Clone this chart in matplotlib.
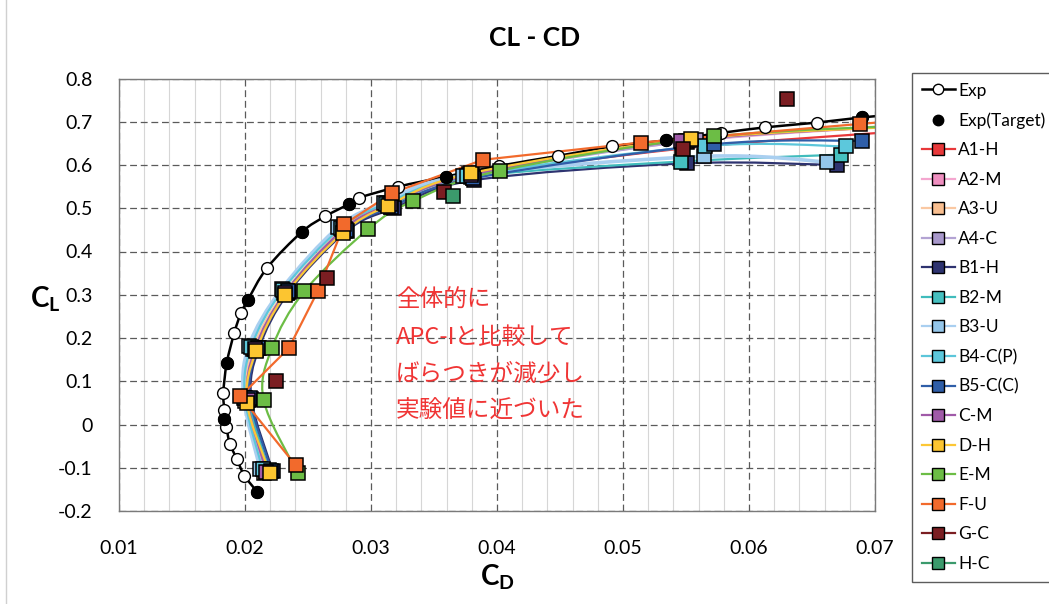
import numpy as np
import matplotlib
matplotlib.use("Agg")
import matplotlib.pyplot as plt
from matplotlib.path import Path
from matplotlib.patches import PathPatch
from matplotlib.lines import Line2D
from matplotlib.ticker import MultipleLocator

plt.rcParams["font.family"] = ["Lato", "DejaVu Sans"]
plt.rcParams["mathtext.fontset"] = "custom"
plt.rcParams["mathtext.rm"] = "Lato"
plt.rcParams["mathtext.bf"] = "Lato:bold"

# ---------------- data ----------------
exp_cd = [0.02095, 0.01995, 0.01934, 0.01879, 0.01852, 0.01836, 0.01836, 0.01828,
          0.01855, 0.01915, 0.01968, 0.02021, 0.02175, 0.02450, 0.02635, 0.02827,
          0.02905, 0.03218, 0.03592, 0.04018, 0.04482, 0.04915, 0.05339, 0.05775,
          0.06127, 0.06537, 0.06895, 0.07250]
exp_cl = [-0.155, -0.118, -0.079, -0.044, -0.006, 0.012, 0.033, 0.073,
          0.142, 0.212, 0.258, 0.287, 0.362, 0.445, 0.481, 0.510,
          0.524, 0.550, 0.573, 0.598, 0.621, 0.643, 0.657, 0.674,
          0.687, 0.698, 0.710, 0.719]

target_cd = [0.02095, 0.01836, 0.01855, 0.02021, 0.02450, 0.02827, 0.03592, 0.05339, 0.06895]
target_cl = [-0.155, 0.012, 0.142, 0.287, 0.445, 0.510, 0.573, 0.657, 0.710]

a1h_cd = [0.0218, 0.0203, 0.0209, 0.0233, 0.0279, 0.0316, 0.0381, 0.0547, 0.0740]
a1h_cl = [-0.108, 0.058, 0.172, 0.303, 0.447, 0.503, 0.571, 0.638, 0.682]

a2m_cd = [0.0216, 0.0201, 0.0207, 0.0232, 0.0278, 0.0314, 0.0379, 0.0551, 0.0745]
a2m_cl = [-0.110, 0.056, 0.176, 0.306, 0.452, 0.510, 0.578, 0.654, 0.695]

a3u_cd = [0.0215, 0.0200, 0.0206, 0.0231, 0.0277, 0.0313, 0.0378, 0.0550, 0.0745]
a3u_cl = [-0.111, 0.054, 0.175, 0.305, 0.451, 0.511, 0.579, 0.656, 0.697]

a4c_cd = [0.0217, 0.0202, 0.0208, 0.0233, 0.0279, 0.0315, 0.0380, 0.0558, 0.0748]
a4c_cl = [-0.109, 0.057, 0.174, 0.304, 0.449, 0.508, 0.576, 0.657, 0.696]

b1h_cd = [0.0222, 0.0205, 0.0211, 0.0235, 0.0281, 0.0318, 0.0382, 0.0551, 0.0670]
b1h_cl = [-0.108, 0.060, 0.176, 0.307, 0.448, 0.500, 0.565, 0.604, 0.600]

b2m_cd = [0.0219, 0.0203, 0.0209, 0.0233, 0.0279, 0.0315, 0.0379, 0.0546, 0.0673]
b2m_cl = [-0.105, 0.060, 0.178, 0.309, 0.452, 0.507, 0.572, 0.608, 0.624]

b3u_cd = [0.0212, 0.0199, 0.0203, 0.0229, 0.0274, 0.0310, 0.0373, 0.0564, 0.0662]
b3u_cl = [-0.102, 0.062, 0.181, 0.313, 0.456, 0.512, 0.575, 0.620, 0.607]

b4c_cd = [0.0214, 0.0200, 0.0205, 0.0230, 0.0276, 0.0312, 0.0376, 0.0565, 0.0677]
b4c_cl = [-0.104, 0.061, 0.180, 0.311, 0.454, 0.510, 0.574, 0.644, 0.643]

b5c_cd = [0.0221, 0.0204, 0.0210, 0.0234, 0.0280, 0.0316, 0.0381, 0.0572, 0.0690]
b5c_cl = [-0.107, 0.062, 0.178, 0.309, 0.449, 0.503, 0.569, 0.648, 0.656]

cm_cd = [0.0217, 0.0202, 0.0208, 0.0232, 0.0278, 0.0315, 0.0379, 0.0546, 0.0745]
cm_cl = [-0.110, 0.056, 0.175, 0.305, 0.451, 0.509, 0.577, 0.656, 0.694]

dh_cd = [0.02196, 0.02016, 0.02087, 0.0232, 0.02775, 0.03133, 0.03794, 0.0554, 0.0745]
dh_cl = [-0.112, 0.050, 0.169, 0.300, 0.443, 0.506, 0.581, 0.660, 0.692]

em_cd = [0.02418, 0.02148, 0.02214, 0.02471, 0.02979, 0.03336, 0.04024, 0.0572, 0.0760]
em_cl = [-0.113, 0.056, 0.177, 0.308, 0.452, 0.517, 0.587, 0.666, 0.695]

fu_cd = [0.02401, 0.01963, 0.02349, 0.02577, 0.02788, 0.03167, 0.03887, 0.05143, 0.06884, 0.0760]
fu_cl = [-0.094, 0.065, 0.177, 0.308, 0.463, 0.535, 0.612, 0.652, 0.695, 0.712]

gc_cd = [0.02246, 0.02651, 0.03577, 0.0548, 0.06302]
gc_cl = [0.100, 0.338, 0.537, 0.638, 0.752]

hc_cd = [0.03647]
hc_cl = [0.529]

series = [
    ("A1-H", a1h_cd, a1h_cl, "#e8383a", "#e8383a", "smooth"),
    ("A2-M", a2m_cd, a2m_cl, "#f4a6cf", "#ef8fc0", "smooth"),
    ("A3-U", a3u_cd, a3u_cl, "#fac8a2", "#f9bf90", "smooth"),
    ("A4-C", a4c_cd, a4c_cl, "#b3a3d3", "#a898cb", "smooth"),
    ("B1-H", b1h_cd, b1h_cl, "#2e3370", "#2e3370", "smooth"),
    ("B2-M", b2m_cd, b2m_cl, "#40bcbc", "#45c0c0", "smooth"),
    ("B3-U", b3u_cd, b3u_cl, "#a9cff0", "#94c6ea", "smooth"),
    ("B4-C(P)", b4c_cd, b4c_cl, "#5cc6da", "#5cc8dc", "smooth"),
    ("B5-C(C)", b5c_cd, b5c_cl, "#2f5ea8", "#2f5ea8", "smooth"),
    ("C-M", cm_cd, cm_cl, "#a05aa8", "#a05aa8", "smooth"),
    ("D-H", dh_cd, dh_cl, "#fcc735", "#fcc530", "smooth"),
    ("E-M", em_cd, em_cl, "#6cbd45", "#6cbd45", "smooth"),
    ("F-U", fu_cd, fu_cl, "#f26a2c", "#f26a2c", "straight"),
    ("G-C", gc_cd, gc_cl, "#7b1e22", "#7b1e22", "none"),
    ("H-C", hc_cd, hc_cl, "#3b9a6c", "#3b9a6c", "none"),
]


def smooth_path(x, y):
    """Cubic Bezier path through the points (Catmull-Rom style tangents)."""
    pts = np.column_stack([x, y]).astype(float)
    n = len(pts)
    verts = [pts[0]]
    codes = [Path.MOVETO]
    for i in range(n - 1):
        p0 = pts[i - 1] if i > 0 else pts[i]
        p1 = pts[i]
        p2 = pts[i + 1]
        p3 = pts[i + 2] if i + 2 < n else pts[i + 1]
        verts += [p1 + (p2 - p0) / 6.0, p2 - (p3 - p1) / 6.0, p2]
        codes += [Path.CURVE4] * 3
    return Path(verts, codes)


W, H = 1049, 604
fig = plt.figure(figsize=(W / 100, H / 100), dpi=100)
ax = fig.add_axes([119 / W, 1 - 511 / H, (875 - 119) / W, (511 - 78.5) / H])

ax.set_xlim(0.01, 0.07)
ax.set_ylim(-0.2, 0.8)
ax.xaxis.set_major_locator(MultipleLocator(0.01))
ax.xaxis.set_minor_locator(MultipleLocator(0.002))
ax.yaxis.set_major_locator(MultipleLocator(0.1))
ax.grid(which="minor", axis="x", color="#d6d6d6", lw=0.8, zorder=0)
ax.grid(which="major", axis="both", color="#5a5a5a", lw=0.9, ls=(0, (5.5, 3)), zorder=0.5)
ax.set_axisbelow(True)
ax.tick_params(which="both", length=0)
ax.tick_params(axis="y", pad=19, labelsize=14)
ax.tick_params(axis="x", pad=21, labelsize=14)
ax.set_xticks([0.01, 0.02, 0.03, 0.04, 0.05, 0.06, 0.07])
ax.set_xticklabels(["0.01", "0.02", "0.03", "0.04", "0.05", "0.06", "0.07"])
ax.set_yticks([-0.2, -0.1, 0, 0.1, 0.2, 0.3, 0.4, 0.5, 0.6, 0.7, 0.8])
ax.set_yticklabels(["-0.2", "-0.1", "0", "0.1", "0.2", "0.3", "0.4", "0.5", "0.6", "0.7", "0.8"])
for s in ax.spines.values():
    s.set_color("#7a7a7a")
    s.set_linewidth(1.0)

# experimental curve
ax.add_patch(PathPatch(smooth_path(exp_cd, exp_cl), fill=False, ec="black", lw=1.8, zorder=2))

# computed curves
for name, cd, cl, lc, mc, style in series:
    lw = 2.6 if name == "B3-U" else 1.6
    if style == "smooth":
        ax.add_patch(PathPatch(smooth_path(cd, cl), fill=False, ec=lc, lw=lw, zorder=2.1))
    elif style == "straight":
        ax.plot(cd, cl, color=lc, lw=lw, zorder=2.1)

# markers on top of all lines
ax.plot(exp_cd, exp_cl, ls="none", marker="o", ms=8.5, mfc="white", mec="black", mew=1.0, zorder=3)
ax.plot(target_cd, target_cl, ls="none", marker="o", ms=8.5, mfc="black", mec="black", zorder=3.05)
for k, (name, cd, cl, lc, mc, style) in enumerate(series):
    ax.plot(cd, cl, ls="none", marker="s", ms=10, mfc=mc, mec="black", mew=1.1, zorder=3.1 + 0.01 * k)

# legend
handles = [
    Line2D([], [], color="black", lw=1.8, marker="o", ms=7.5, mfc="white", mec="black"),
    Line2D([], [], ls="none", marker="o", ms=7.5, mfc="black", mec="black"),
]
labels = ["Exp", "Exp(Target)"]
for name, cd, cl, lc, mc, style in series:
    handles.append(Line2D([], [], color=lc, lw=1.6, marker="s", ms=8.5, mfc=mc, mec="black", mew=1.0))
    labels.append(name)
leg = fig.legend(handles, labels, loc="upper left", bbox_to_anchor=(912 / W, 1 - 73 / H),
                 bbox_transform=fig.transFigure, frameon=True, fancybox=False,
                 edgecolor="#333333", fontsize=12.5, labelspacing=0.78,
                 handlelength=1.9, handletextpad=0.2, borderpad=0.55, borderaxespad=0)
leg.get_frame().set_linewidth(1.0)

# titles and axis labels
fig.text(535 / W, 1 - 38 / H, "CL - CD", ha="center", va="center", fontsize=19, fontweight="bold")
fig.text(45 / W, 1 - 299 / H, r"$\mathbf{C_L}$", ha="center", va="center", fontsize=20)
fig.text(497 / W, 1 - 577 / H, r"$\mathbf{C_D}$", ha="center", va="center", fontsize=20)

# annotation
note_lines = ["全体的に", "APC-Iと比較して", "ばらつきが減少し", "実験値に近づいた"]
note_y = [300, 337, 374, 411]
for txt, yy in zip(note_lines, note_y):
    fig.text(396 / W, 1 - yy / H, txt, ha="left", va="center", fontsize=17,
             color="#f03535", family=["Noto Sans CJK JP", "DejaVu Sans"])

# chart-area edge
fig.add_artist(Line2D([6 / W, 6 / W], [0, 1], transform=fig.transFigure, color="#d0d0d0", lw=1.0))

fig.savefig("out.png", dpi=100)
